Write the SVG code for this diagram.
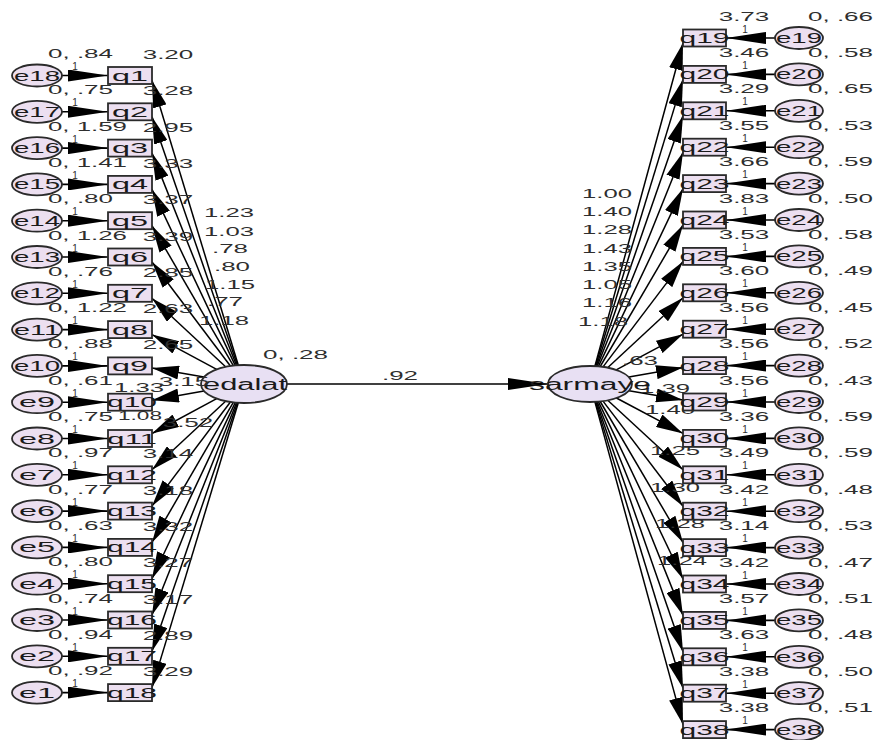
<svg xmlns="http://www.w3.org/2000/svg" width="878" height="740" viewBox="0 0 878 740">
<style>
text{font-family:"Liberation Sans",Arial,sans-serif;fill:#2e2e2e}
.lbl{font-size:13px}
.one{font-size:10px}
.nm{font-size:15px;fill:#1a1a1a}
.lvt{font-size:16px;fill:#1a1a1a}
.ob{fill:#ecdff0;stroke:#2a2a2a;stroke-width:1.8}
.lv{fill:#e8e0f3;stroke:#2a2a2a;stroke-width:1.8}
.p{stroke:#000;stroke-width:1.5;fill:none;marker-end:url(#ah)}
.e{stroke:#000;stroke-width:1.6;fill:none;marker-end:url(#eh)}
</style>
<defs>
<marker id="ah" markerUnits="userSpaceOnUse" markerWidth="27" markerHeight="14" viewBox="0 0 27 14" refX="27" refY="7" orient="auto"><path d="M0,0 L27,7 L0,14 z" fill="#000"/></marker>
<marker id="eh" markerUnits="userSpaceOnUse" markerWidth="40" markerHeight="12" viewBox="0 0 40 12" refX="40" refY="6" orient="auto"><path d="M0,0 L40,6 L0,12 z" fill="#000"/></marker>
</defs>
<rect width="878" height="740" fill="#fff"/>

<g id="connectors">
<line class="e" x1="287" y1="384" x2="548" y2="384"/>
<line class="e" x1="62" y1="75.5" x2="108" y2="75.5"/>
<line class="e" x1="62" y1="111.8" x2="108" y2="111.8"/>
<line class="e" x1="62" y1="148.1" x2="108" y2="148.1"/>
<line class="e" x1="62" y1="184.4" x2="108" y2="184.4"/>
<line class="e" x1="62" y1="220.7" x2="108" y2="220.7"/>
<line class="e" x1="62" y1="257" x2="108" y2="257"/>
<line class="e" x1="62" y1="293.3" x2="108" y2="293.3"/>
<line class="e" x1="62" y1="329.6" x2="108" y2="329.6"/>
<line class="e" x1="62" y1="365.9" x2="108" y2="365.9"/>
<line class="e" x1="62" y1="402.2" x2="108" y2="402.2"/>
<line class="e" x1="62" y1="438.5" x2="108" y2="438.5"/>
<line class="e" x1="62" y1="474.8" x2="108" y2="474.8"/>
<line class="e" x1="62" y1="511.1" x2="108" y2="511.1"/>
<line class="e" x1="62" y1="547.4" x2="108" y2="547.4"/>
<line class="e" x1="62" y1="583.7" x2="108" y2="583.7"/>
<line class="e" x1="62" y1="620" x2="108" y2="620"/>
<line class="e" x1="62" y1="656.3" x2="108" y2="656.3"/>
<line class="e" x1="62" y1="692.6" x2="108" y2="692.6"/>

<line class="e" x1="775" y1="38" x2="726" y2="38"/>
<line class="e" x1="775" y1="74.4" x2="726" y2="74.4"/>
<line class="e" x1="775" y1="110.8" x2="726" y2="110.8"/>
<line class="e" x1="775" y1="147.2" x2="726" y2="147.2"/>
<line class="e" x1="775" y1="183.6" x2="726" y2="183.6"/>
<line class="e" x1="775" y1="220" x2="726" y2="220"/>
<line class="e" x1="775" y1="256.4" x2="726" y2="256.4"/>
<line class="e" x1="775" y1="292.8" x2="726" y2="292.8"/>
<line class="e" x1="775" y1="329.2" x2="726" y2="329.2"/>
<line class="e" x1="775" y1="365.6" x2="726" y2="365.6"/>
<line class="e" x1="775" y1="402" x2="726" y2="402"/>
<line class="e" x1="775" y1="438.4" x2="726" y2="438.4"/>
<line class="e" x1="775" y1="474.8" x2="726" y2="474.8"/>
<line class="e" x1="775" y1="511.2" x2="726" y2="511.2"/>
<line class="e" x1="775" y1="547.6" x2="726" y2="547.6"/>
<line class="e" x1="775" y1="584" x2="726" y2="584"/>
<line class="e" x1="775" y1="620.4" x2="726" y2="620.4"/>
<line class="e" x1="775" y1="656.8" x2="726" y2="656.8"/>
<line class="e" x1="775" y1="693.2" x2="726" y2="693.2"/>
<line class="e" x1="775" y1="729.6" x2="726" y2="729.6"/>

<path class="p" d="M238.3,365.2 L152,80.5"/>
<path class="p" d="M237.5,365.2 L152,116.8"/>
<path class="p" d="M236.5,365.3 L152,153.1"/>
<path class="p" d="M235.2,365.4 L152,189.4"/>
<path class="p" d="M233.3,365.6 L152,225.7"/>
<path class="p" d="M230.4,366 L152,262"/>
<path class="p" d="M225.6,366.8 L152,298.3"/>
<path class="p" d="M216.7,369.3 L152,334.6"/>
<path class="p" d="M204,377 L152,367.9"/>
<path class="p" d="M204,391 L152,400.2"/>
<path class="p" d="M216.7,398.7 L152,433.5"/>
<path class="p" d="M225.6,401.2 L152,469.8"/>
<path class="p" d="M230.4,402 L152,506.1"/>
<path class="p" d="M233.3,402.4 L152,542.4"/>
<path class="p" d="M235.2,402.6 L152,578.7"/>
<path class="p" d="M236.5,402.7 L152,615"/>
<path class="p" d="M237.5,402.8 L152,651.3"/>
<path class="p" d="M238.3,402.8 L152,687.6"/>

<path class="p" d="M594.9,366.1 L683,43"/>
<path class="p" d="M595.4,366.2 L683,79.4"/>
<path class="p" d="M596.2,366.2 L683,115.8"/>
<path class="p" d="M597.1,366.3 L683,152.2"/>
<path class="p" d="M598.4,366.4 L683,188.6"/>
<path class="p" d="M600.2,366.5 L683,225"/>
<path class="p" d="M603,366.9 L683,261.4"/>
<path class="p" d="M607.6,367.7 L683,297.8"/>
<path class="p" d="M616.2,369.9 L683,334.2"/>
<path class="p" d="M628.8,377.1 L683,367.6"/>
<path class="p" d="M629,390.7 L683,400"/>
<path class="p" d="M616.4,398 L683,433.4"/>
<path class="p" d="M607.7,400.3 L683,469.8"/>
<path class="p" d="M603,401.1 L683,506.2"/>
<path class="p" d="M600.2,401.5 L683,542.6"/>
<path class="p" d="M598.4,401.6 L683,579"/>
<path class="p" d="M597.1,401.7 L683,615.4"/>
<path class="p" d="M596.2,401.8 L683,651.8"/>
<path class="p" d="M595.5,401.9 L683,688.2"/>
<path class="p" d="M594.9,401.9 L683,724.6"/>

<text class="lbl" x="400" y="380" text-anchor="middle" textLength="36" lengthAdjust="spacingAndGlyphs">.92</text>
<g class="lbl one" text-anchor="middle">
<text x="75" y="70">1</text><text x="75" y="106.3">1</text><text x="75" y="142.6">1</text><text x="75" y="178.9">1</text><text x="75" y="215.2">1</text><text x="75" y="251.5">1</text><text x="75" y="287.8">1</text><text x="75" y="324.1">1</text><text x="75" y="360.4">1</text><text x="75" y="396.7">1</text><text x="75" y="433">1</text><text x="75" y="469.3">1</text><text x="75" y="505.6">1</text><text x="75" y="541.9">1</text><text x="75" y="578.2">1</text><text x="75" y="614.5">1</text><text x="75" y="650.8">1</text><text x="75" y="687.1">1</text>
<text x="745" y="32.5">1</text><text x="745" y="68.9">1</text><text x="745" y="105.3">1</text><text x="745" y="141.7">1</text><text x="745" y="178.1">1</text><text x="745" y="214.5">1</text><text x="745" y="250.9">1</text><text x="745" y="287.3">1</text><text x="745" y="323.7">1</text><text x="745" y="360.1">1</text><text x="745" y="396.5">1</text><text x="745" y="432.9">1</text><text x="745" y="469.3">1</text><text x="745" y="505.7">1</text><text x="745" y="542.1">1</text><text x="745" y="578.5">1</text><text x="745" y="614.9">1</text><text x="745" y="651.3">1</text><text x="745" y="687.7">1</text><text x="745" y="724.1">1</text>
</g>
<g class="lbl" text-anchor="middle">
<text x="229" y="217" textLength="50" lengthAdjust="spacingAndGlyphs">1.23</text>
<text x="229" y="236" textLength="50" lengthAdjust="spacingAndGlyphs">1.03</text>
<text x="230" y="253" textLength="36" lengthAdjust="spacingAndGlyphs">.78</text>
<text x="232" y="271" textLength="36" lengthAdjust="spacingAndGlyphs">.80</text>
<text x="230" y="289" textLength="50" lengthAdjust="spacingAndGlyphs">1.15</text>
<text x="225" y="306" textLength="36" lengthAdjust="spacingAndGlyphs">.77</text>
<text x="224" y="325" textLength="50" lengthAdjust="spacingAndGlyphs">1.18</text>
<text x="139" y="392" textLength="50" lengthAdjust="spacingAndGlyphs">1.33</text>
<text x="140" y="420" textLength="44" lengthAdjust="spacingAndGlyphs">1.08</text>
<text x="607" y="198" textLength="50" lengthAdjust="spacingAndGlyphs">1.00</text>
<text x="607" y="216" textLength="50" lengthAdjust="spacingAndGlyphs">1.40</text>
<text x="607" y="234" textLength="50" lengthAdjust="spacingAndGlyphs">1.28</text>
<text x="607" y="253" textLength="50" lengthAdjust="spacingAndGlyphs">1.43</text>
<text x="607" y="271" textLength="50" lengthAdjust="spacingAndGlyphs">1.35</text>
<text x="607" y="289" textLength="50" lengthAdjust="spacingAndGlyphs">1.05</text>
<text x="607" y="307" textLength="50" lengthAdjust="spacingAndGlyphs">1.16</text>
<text x="603" y="326" textLength="50" lengthAdjust="spacingAndGlyphs">1.18</text>
<text x="640" y="365" textLength="36" lengthAdjust="spacingAndGlyphs">.63</text>
<text x="665" y="393" textLength="50" lengthAdjust="spacingAndGlyphs">1.39</text>
<text x="670" y="414" textLength="50" lengthAdjust="spacingAndGlyphs">1.40</text>
<text x="675" y="455" textLength="50" lengthAdjust="spacingAndGlyphs">1.25</text>
<text x="675" y="492" textLength="50" lengthAdjust="spacingAndGlyphs">1.30</text>
<text x="680" y="528" textLength="50" lengthAdjust="spacingAndGlyphs">1.28</text>
<text x="682" y="565" textLength="50" lengthAdjust="spacingAndGlyphs">1.24</text>
</g>
</g>

<g id="edalat"><ellipse class="lv" cx="244" cy="384" rx="43" ry="19"/><text class="lvt" x="245" y="389.5" text-anchor="middle" textLength="84" lengthAdjust="spacingAndGlyphs">edalat</text><text class="lbl" x="263" y="359" textLength="65" lengthAdjust="spacingAndGlyphs">0, .28</text></g>
<g id="sarmaye"><ellipse class="lv" cx="590" cy="384" rx="42" ry="18"/><text class="lvt" x="590" y="389.5" text-anchor="middle" textLength="122" lengthAdjust="spacingAndGlyphs">sarmaye</text></g>

<g class="lbl">
<g id="q1"><rect class="ob" x="108" y="67" width="44" height="17"/><text class="nm" x="130" y="80.5" text-anchor="middle" textLength="36" lengthAdjust="spacingAndGlyphs">q1</text><text x="168" y="59" text-anchor="middle" textLength="50.6" lengthAdjust="spacingAndGlyphs">3.20</text></g>
<g id="q2"><rect class="ob" x="108" y="103.3" width="44" height="17"/><text class="nm" x="130" y="116.8" text-anchor="middle" textLength="36" lengthAdjust="spacingAndGlyphs">q2</text><text x="168" y="95.3" text-anchor="middle" textLength="50.6" lengthAdjust="spacingAndGlyphs">3.28</text></g>
<g id="q3"><rect class="ob" x="108" y="139.6" width="44" height="17"/><text class="nm" x="130" y="153.1" text-anchor="middle" textLength="36" lengthAdjust="spacingAndGlyphs">q3</text><text x="168" y="131.6" text-anchor="middle" textLength="50.6" lengthAdjust="spacingAndGlyphs">2.95</text></g>
<g id="q4"><rect class="ob" x="108" y="175.9" width="44" height="17"/><text class="nm" x="130" y="189.4" text-anchor="middle" textLength="36" lengthAdjust="spacingAndGlyphs">q4</text><text x="168" y="167.9" text-anchor="middle" textLength="50.6" lengthAdjust="spacingAndGlyphs">3.33</text></g>
<g id="q5"><rect class="ob" x="108" y="212.2" width="44" height="17"/><text class="nm" x="130" y="225.7" text-anchor="middle" textLength="36" lengthAdjust="spacingAndGlyphs">q5</text><text x="168" y="204.2" text-anchor="middle" textLength="50.6" lengthAdjust="spacingAndGlyphs">3.37</text></g>
<g id="q6"><rect class="ob" x="108" y="248.5" width="44" height="17"/><text class="nm" x="130" y="262" text-anchor="middle" textLength="36" lengthAdjust="spacingAndGlyphs">q6</text><text x="168" y="240.5" text-anchor="middle" textLength="50.6" lengthAdjust="spacingAndGlyphs">3.39</text></g>
<g id="q7"><rect class="ob" x="108" y="284.8" width="44" height="17"/><text class="nm" x="130" y="298.3" text-anchor="middle" textLength="36" lengthAdjust="spacingAndGlyphs">q7</text><text x="168" y="276.8" text-anchor="middle" textLength="50.6" lengthAdjust="spacingAndGlyphs">2.85</text></g>
<g id="q8"><rect class="ob" x="108" y="321.1" width="44" height="17"/><text class="nm" x="130" y="334.6" text-anchor="middle" textLength="36" lengthAdjust="spacingAndGlyphs">q8</text><text x="168" y="313.1" text-anchor="middle" textLength="50.6" lengthAdjust="spacingAndGlyphs">2.63</text></g>
<g id="q9"><rect class="ob" x="108" y="357.4" width="44" height="17"/><text class="nm" x="130" y="370.9" text-anchor="middle" textLength="36" lengthAdjust="spacingAndGlyphs">q9</text><text x="168" y="349.4" text-anchor="middle" textLength="50.6" lengthAdjust="spacingAndGlyphs">2.65</text></g>
<g id="q10"><rect class="ob" x="108" y="393.7" width="44" height="17"/><text class="nm" x="132" y="407.2" text-anchor="middle" textLength="50" lengthAdjust="spacingAndGlyphs">q10</text><text x="184" y="385.7" text-anchor="middle" textLength="50.6" lengthAdjust="spacingAndGlyphs">3.15</text></g>
<g id="q11"><rect class="ob" x="108" y="430" width="44" height="17"/><text class="nm" x="132" y="443.5" text-anchor="middle" textLength="50" lengthAdjust="spacingAndGlyphs">q11</text><text x="188" y="427" text-anchor="middle" textLength="50.6" lengthAdjust="spacingAndGlyphs">3.52</text></g>
<g id="q12"><rect class="ob" x="108" y="466.3" width="44" height="17"/><text class="nm" x="132" y="479.8" text-anchor="middle" textLength="50" lengthAdjust="spacingAndGlyphs">q12</text><text x="168" y="458.3" text-anchor="middle" textLength="50.6" lengthAdjust="spacingAndGlyphs">3.14</text></g>
<g id="q13"><rect class="ob" x="108" y="502.6" width="44" height="17"/><text class="nm" x="132" y="516.1" text-anchor="middle" textLength="50" lengthAdjust="spacingAndGlyphs">q13</text><text x="168" y="494.6" text-anchor="middle" textLength="50.6" lengthAdjust="spacingAndGlyphs">3.18</text></g>
<g id="q14"><rect class="ob" x="108" y="538.9" width="44" height="17"/><text class="nm" x="132" y="552.4" text-anchor="middle" textLength="50" lengthAdjust="spacingAndGlyphs">q14</text><text x="168" y="530.9" text-anchor="middle" textLength="50.6" lengthAdjust="spacingAndGlyphs">3.32</text></g>
<g id="q15"><rect class="ob" x="108" y="575.2" width="44" height="17"/><text class="nm" x="132" y="588.7" text-anchor="middle" textLength="50" lengthAdjust="spacingAndGlyphs">q15</text><text x="168" y="567.2" text-anchor="middle" textLength="50.6" lengthAdjust="spacingAndGlyphs">3.27</text></g>
<g id="q16"><rect class="ob" x="108" y="611.5" width="44" height="17"/><text class="nm" x="132" y="625" text-anchor="middle" textLength="50" lengthAdjust="spacingAndGlyphs">q16</text><text x="168" y="603.5" text-anchor="middle" textLength="50.6" lengthAdjust="spacingAndGlyphs">3.17</text></g>
<g id="q17"><rect class="ob" x="108" y="647.8" width="44" height="17"/><text class="nm" x="132" y="661.3" text-anchor="middle" textLength="50" lengthAdjust="spacingAndGlyphs">q17</text><text x="168" y="639.8" text-anchor="middle" textLength="50.6" lengthAdjust="spacingAndGlyphs">2.89</text></g>
<g id="q18"><rect class="ob" x="108" y="684.1" width="44" height="17"/><text class="nm" x="132" y="697.6" text-anchor="middle" textLength="50" lengthAdjust="spacingAndGlyphs">q18</text><text x="168" y="676.1" text-anchor="middle" textLength="50.6" lengthAdjust="spacingAndGlyphs">3.29</text></g>

<g id="e18"><ellipse class="ob" cx="37" cy="75.5" rx="25" ry="11"/><text class="nm" x="37" y="80.5" text-anchor="middle" textLength="46" lengthAdjust="spacingAndGlyphs">e18</text><text x="48" y="58" textLength="65" lengthAdjust="spacingAndGlyphs">0, .84</text></g>
<g id="e17"><ellipse class="ob" cx="37" cy="111.8" rx="25" ry="11"/><text class="nm" x="37" y="116.8" text-anchor="middle" textLength="46" lengthAdjust="spacingAndGlyphs">e17</text><text x="48" y="94.3" textLength="65" lengthAdjust="spacingAndGlyphs">0, .75</text></g>
<g id="e16"><ellipse class="ob" cx="37" cy="148.1" rx="25" ry="11"/><text class="nm" x="37" y="153.1" text-anchor="middle" textLength="46" lengthAdjust="spacingAndGlyphs">e16</text><text x="48" y="130.6" textLength="79" lengthAdjust="spacingAndGlyphs">0, 1.59</text></g>
<g id="e15"><ellipse class="ob" cx="37" cy="184.4" rx="25" ry="11"/><text class="nm" x="37" y="189.4" text-anchor="middle" textLength="46" lengthAdjust="spacingAndGlyphs">e15</text><text x="48" y="166.9" textLength="79" lengthAdjust="spacingAndGlyphs">0, 1.41</text></g>
<g id="e14"><ellipse class="ob" cx="37" cy="220.7" rx="25" ry="11"/><text class="nm" x="37" y="225.7" text-anchor="middle" textLength="46" lengthAdjust="spacingAndGlyphs">e14</text><text x="48" y="203.2" textLength="65" lengthAdjust="spacingAndGlyphs">0, .80</text></g>
<g id="e13"><ellipse class="ob" cx="37" cy="257" rx="25" ry="11"/><text class="nm" x="37" y="262" text-anchor="middle" textLength="46" lengthAdjust="spacingAndGlyphs">e13</text><text x="48" y="239.5" textLength="79" lengthAdjust="spacingAndGlyphs">0, 1.26</text></g>
<g id="e12"><ellipse class="ob" cx="37" cy="293.3" rx="25" ry="11"/><text class="nm" x="37" y="298.3" text-anchor="middle" textLength="46" lengthAdjust="spacingAndGlyphs">e12</text><text x="48" y="275.8" textLength="65" lengthAdjust="spacingAndGlyphs">0, .76</text></g>
<g id="e11"><ellipse class="ob" cx="37" cy="329.6" rx="25" ry="11"/><text class="nm" x="37" y="334.6" text-anchor="middle" textLength="46" lengthAdjust="spacingAndGlyphs">e11</text><text x="48" y="312.1" textLength="79" lengthAdjust="spacingAndGlyphs">0, 1.22</text></g>
<g id="e10"><ellipse class="ob" cx="37" cy="365.9" rx="25" ry="11"/><text class="nm" x="37" y="370.9" text-anchor="middle" textLength="46" lengthAdjust="spacingAndGlyphs">e10</text><text x="48" y="348.4" textLength="65" lengthAdjust="spacingAndGlyphs">0, .88</text></g>
<g id="e9"><ellipse class="ob" cx="37" cy="402.2" rx="25" ry="11"/><text class="nm" x="37" y="407.2" text-anchor="middle" textLength="36" lengthAdjust="spacingAndGlyphs">e9</text><text x="48" y="384.7" textLength="65" lengthAdjust="spacingAndGlyphs">0, .61</text></g>
<g id="e8"><ellipse class="ob" cx="37" cy="438.5" rx="25" ry="11"/><text class="nm" x="37" y="443.5" text-anchor="middle" textLength="36" lengthAdjust="spacingAndGlyphs">e8</text><text x="48" y="421" textLength="65" lengthAdjust="spacingAndGlyphs">0, .75</text></g>
<g id="e7"><ellipse class="ob" cx="37" cy="474.8" rx="25" ry="11"/><text class="nm" x="37" y="479.8" text-anchor="middle" textLength="36" lengthAdjust="spacingAndGlyphs">e7</text><text x="48" y="457.3" textLength="65" lengthAdjust="spacingAndGlyphs">0, .97</text></g>
<g id="e6"><ellipse class="ob" cx="37" cy="511.1" rx="25" ry="11"/><text class="nm" x="37" y="516.1" text-anchor="middle" textLength="36" lengthAdjust="spacingAndGlyphs">e6</text><text x="48" y="493.6" textLength="65" lengthAdjust="spacingAndGlyphs">0, .77</text></g>
<g id="e5"><ellipse class="ob" cx="37" cy="547.4" rx="25" ry="11"/><text class="nm" x="37" y="552.4" text-anchor="middle" textLength="36" lengthAdjust="spacingAndGlyphs">e5</text><text x="48" y="529.9" textLength="65" lengthAdjust="spacingAndGlyphs">0, .63</text></g>
<g id="e4"><ellipse class="ob" cx="37" cy="583.7" rx="25" ry="11"/><text class="nm" x="37" y="588.7" text-anchor="middle" textLength="36" lengthAdjust="spacingAndGlyphs">e4</text><text x="48" y="566.2" textLength="65" lengthAdjust="spacingAndGlyphs">0, .80</text></g>
<g id="e3"><ellipse class="ob" cx="37" cy="620" rx="25" ry="11"/><text class="nm" x="37" y="625" text-anchor="middle" textLength="36" lengthAdjust="spacingAndGlyphs">e3</text><text x="48" y="602.5" textLength="65" lengthAdjust="spacingAndGlyphs">0, .74</text></g>
<g id="e2"><ellipse class="ob" cx="37" cy="656.3" rx="25" ry="11"/><text class="nm" x="37" y="661.3" text-anchor="middle" textLength="36" lengthAdjust="spacingAndGlyphs">e2</text><text x="48" y="638.8" textLength="65" lengthAdjust="spacingAndGlyphs">0, .94</text></g>
<g id="e1"><ellipse class="ob" cx="37" cy="692.6" rx="25" ry="11"/><text class="nm" x="37" y="697.6" text-anchor="middle" textLength="36" lengthAdjust="spacingAndGlyphs">e1</text><text x="48" y="675.1" textLength="65" lengthAdjust="spacingAndGlyphs">0, .92</text></g>

<g id="q19"><rect class="ob" x="683" y="29.5" width="43" height="17"/><text class="nm" x="704.5" y="43" text-anchor="middle" textLength="50" lengthAdjust="spacingAndGlyphs">q19</text><text x="744" y="20.5" text-anchor="middle" textLength="50.6" lengthAdjust="spacingAndGlyphs">3.73</text></g>
<g id="q20"><rect class="ob" x="683" y="65.9" width="43" height="17"/><text class="nm" x="704.5" y="79.4" text-anchor="middle" textLength="50" lengthAdjust="spacingAndGlyphs">q20</text><text x="744" y="56.9" text-anchor="middle" textLength="50.6" lengthAdjust="spacingAndGlyphs">3.46</text></g>
<g id="q21"><rect class="ob" x="683" y="102.3" width="43" height="17"/><text class="nm" x="704.5" y="115.8" text-anchor="middle" textLength="50" lengthAdjust="spacingAndGlyphs">q21</text><text x="744" y="93.3" text-anchor="middle" textLength="50.6" lengthAdjust="spacingAndGlyphs">3.29</text></g>
<g id="q22"><rect class="ob" x="683" y="138.7" width="43" height="17"/><text class="nm" x="704.5" y="152.2" text-anchor="middle" textLength="50" lengthAdjust="spacingAndGlyphs">q22</text><text x="744" y="129.7" text-anchor="middle" textLength="50.6" lengthAdjust="spacingAndGlyphs">3.55</text></g>
<g id="q23"><rect class="ob" x="683" y="175.1" width="43" height="17"/><text class="nm" x="704.5" y="188.6" text-anchor="middle" textLength="50" lengthAdjust="spacingAndGlyphs">q23</text><text x="744" y="166.1" text-anchor="middle" textLength="50.6" lengthAdjust="spacingAndGlyphs">3.66</text></g>
<g id="q24"><rect class="ob" x="683" y="211.5" width="43" height="17"/><text class="nm" x="704.5" y="225" text-anchor="middle" textLength="50" lengthAdjust="spacingAndGlyphs">q24</text><text x="744" y="202.5" text-anchor="middle" textLength="50.6" lengthAdjust="spacingAndGlyphs">3.83</text></g>
<g id="q25"><rect class="ob" x="683" y="247.9" width="43" height="17"/><text class="nm" x="704.5" y="261.4" text-anchor="middle" textLength="50" lengthAdjust="spacingAndGlyphs">q25</text><text x="744" y="238.9" text-anchor="middle" textLength="50.6" lengthAdjust="spacingAndGlyphs">3.53</text></g>
<g id="q26"><rect class="ob" x="683" y="284.3" width="43" height="17"/><text class="nm" x="704.5" y="297.8" text-anchor="middle" textLength="50" lengthAdjust="spacingAndGlyphs">q26</text><text x="744" y="275.3" text-anchor="middle" textLength="50.6" lengthAdjust="spacingAndGlyphs">3.60</text></g>
<g id="q27"><rect class="ob" x="683" y="320.7" width="43" height="17"/><text class="nm" x="704.5" y="334.2" text-anchor="middle" textLength="50" lengthAdjust="spacingAndGlyphs">q27</text><text x="744" y="311.7" text-anchor="middle" textLength="50.6" lengthAdjust="spacingAndGlyphs">3.56</text></g>
<g id="q28"><rect class="ob" x="683" y="357.1" width="43" height="17"/><text class="nm" x="704.5" y="370.6" text-anchor="middle" textLength="50" lengthAdjust="spacingAndGlyphs">q28</text><text x="744" y="348.1" text-anchor="middle" textLength="50.6" lengthAdjust="spacingAndGlyphs">3.56</text></g>
<g id="q29"><rect class="ob" x="683" y="393.5" width="43" height="17"/><text class="nm" x="704.5" y="407" text-anchor="middle" textLength="50" lengthAdjust="spacingAndGlyphs">q29</text><text x="744" y="384.5" text-anchor="middle" textLength="50.6" lengthAdjust="spacingAndGlyphs">3.56</text></g>
<g id="q30"><rect class="ob" x="683" y="429.9" width="43" height="17"/><text class="nm" x="704.5" y="443.4" text-anchor="middle" textLength="50" lengthAdjust="spacingAndGlyphs">q30</text><text x="744" y="420.9" text-anchor="middle" textLength="50.6" lengthAdjust="spacingAndGlyphs">3.36</text></g>
<g id="q31"><rect class="ob" x="683" y="466.3" width="43" height="17"/><text class="nm" x="704.5" y="479.8" text-anchor="middle" textLength="50" lengthAdjust="spacingAndGlyphs">q31</text><text x="744" y="457.3" text-anchor="middle" textLength="50.6" lengthAdjust="spacingAndGlyphs">3.49</text></g>
<g id="q32"><rect class="ob" x="683" y="502.7" width="43" height="17"/><text class="nm" x="704.5" y="516.2" text-anchor="middle" textLength="50" lengthAdjust="spacingAndGlyphs">q32</text><text x="744" y="493.7" text-anchor="middle" textLength="50.6" lengthAdjust="spacingAndGlyphs">3.42</text></g>
<g id="q33"><rect class="ob" x="683" y="539.1" width="43" height="17"/><text class="nm" x="704.5" y="552.6" text-anchor="middle" textLength="50" lengthAdjust="spacingAndGlyphs">q33</text><text x="744" y="530.1" text-anchor="middle" textLength="50.6" lengthAdjust="spacingAndGlyphs">3.14</text></g>
<g id="q34"><rect class="ob" x="683" y="575.5" width="43" height="17"/><text class="nm" x="704.5" y="589" text-anchor="middle" textLength="50" lengthAdjust="spacingAndGlyphs">q34</text><text x="744" y="566.5" text-anchor="middle" textLength="50.6" lengthAdjust="spacingAndGlyphs">3.42</text></g>
<g id="q35"><rect class="ob" x="683" y="611.9" width="43" height="17"/><text class="nm" x="704.5" y="625.4" text-anchor="middle" textLength="50" lengthAdjust="spacingAndGlyphs">q35</text><text x="744" y="602.9" text-anchor="middle" textLength="50.6" lengthAdjust="spacingAndGlyphs">3.57</text></g>
<g id="q36"><rect class="ob" x="683" y="648.3" width="43" height="17"/><text class="nm" x="704.5" y="661.8" text-anchor="middle" textLength="50" lengthAdjust="spacingAndGlyphs">q36</text><text x="744" y="639.3" text-anchor="middle" textLength="50.6" lengthAdjust="spacingAndGlyphs">3.63</text></g>
<g id="q37"><rect class="ob" x="683" y="684.7" width="43" height="17"/><text class="nm" x="704.5" y="698.2" text-anchor="middle" textLength="50" lengthAdjust="spacingAndGlyphs">q37</text><text x="744" y="675.7" text-anchor="middle" textLength="50.6" lengthAdjust="spacingAndGlyphs">3.38</text></g>
<g id="q38"><rect class="ob" x="683" y="721.1" width="43" height="17"/><text class="nm" x="704.5" y="734.6" text-anchor="middle" textLength="50" lengthAdjust="spacingAndGlyphs">q38</text><text x="744" y="712.1" text-anchor="middle" textLength="50.6" lengthAdjust="spacingAndGlyphs">3.38</text></g>

<g id="e19"><ellipse class="ob" cx="799" cy="38" rx="24" ry="11"/><text class="nm" x="799" y="43" text-anchor="middle" textLength="46" lengthAdjust="spacingAndGlyphs">e19</text><text x="808" y="20.5" textLength="65" lengthAdjust="spacingAndGlyphs">0, .66</text></g>
<g id="e20"><ellipse class="ob" cx="799" cy="74.4" rx="24" ry="11"/><text class="nm" x="799" y="79.4" text-anchor="middle" textLength="46" lengthAdjust="spacingAndGlyphs">e20</text><text x="808" y="56.9" textLength="65" lengthAdjust="spacingAndGlyphs">0, .58</text></g>
<g id="e21"><ellipse class="ob" cx="799" cy="110.8" rx="24" ry="11"/><text class="nm" x="799" y="115.8" text-anchor="middle" textLength="46" lengthAdjust="spacingAndGlyphs">e21</text><text x="808" y="93.3" textLength="65" lengthAdjust="spacingAndGlyphs">0, .65</text></g>
<g id="e22"><ellipse class="ob" cx="799" cy="147.2" rx="24" ry="11"/><text class="nm" x="799" y="152.2" text-anchor="middle" textLength="46" lengthAdjust="spacingAndGlyphs">e22</text><text x="808" y="129.7" textLength="65" lengthAdjust="spacingAndGlyphs">0, .53</text></g>
<g id="e23"><ellipse class="ob" cx="799" cy="183.6" rx="24" ry="11"/><text class="nm" x="799" y="188.6" text-anchor="middle" textLength="46" lengthAdjust="spacingAndGlyphs">e23</text><text x="808" y="166.1" textLength="65" lengthAdjust="spacingAndGlyphs">0, .59</text></g>
<g id="e24"><ellipse class="ob" cx="799" cy="220" rx="24" ry="11"/><text class="nm" x="799" y="225" text-anchor="middle" textLength="46" lengthAdjust="spacingAndGlyphs">e24</text><text x="808" y="202.5" textLength="65" lengthAdjust="spacingAndGlyphs">0, .50</text></g>
<g id="e25"><ellipse class="ob" cx="799" cy="256.4" rx="24" ry="11"/><text class="nm" x="799" y="261.4" text-anchor="middle" textLength="46" lengthAdjust="spacingAndGlyphs">e25</text><text x="808" y="238.9" textLength="65" lengthAdjust="spacingAndGlyphs">0, .58</text></g>
<g id="e26"><ellipse class="ob" cx="799" cy="292.8" rx="24" ry="11"/><text class="nm" x="799" y="297.8" text-anchor="middle" textLength="46" lengthAdjust="spacingAndGlyphs">e26</text><text x="808" y="275.3" textLength="65" lengthAdjust="spacingAndGlyphs">0, .49</text></g>
<g id="e27"><ellipse class="ob" cx="799" cy="329.2" rx="24" ry="11"/><text class="nm" x="799" y="334.2" text-anchor="middle" textLength="46" lengthAdjust="spacingAndGlyphs">e27</text><text x="808" y="311.7" textLength="65" lengthAdjust="spacingAndGlyphs">0, .45</text></g>
<g id="e28"><ellipse class="ob" cx="799" cy="365.6" rx="24" ry="11"/><text class="nm" x="799" y="370.6" text-anchor="middle" textLength="46" lengthAdjust="spacingAndGlyphs">e28</text><text x="808" y="348.1" textLength="65" lengthAdjust="spacingAndGlyphs">0, .52</text></g>
<g id="e29"><ellipse class="ob" cx="799" cy="402" rx="24" ry="11"/><text class="nm" x="799" y="407" text-anchor="middle" textLength="46" lengthAdjust="spacingAndGlyphs">e29</text><text x="808" y="384.5" textLength="65" lengthAdjust="spacingAndGlyphs">0, .43</text></g>
<g id="e30"><ellipse class="ob" cx="799" cy="438.4" rx="24" ry="11"/><text class="nm" x="799" y="443.4" text-anchor="middle" textLength="46" lengthAdjust="spacingAndGlyphs">e30</text><text x="808" y="420.9" textLength="65" lengthAdjust="spacingAndGlyphs">0, .59</text></g>
<g id="e31"><ellipse class="ob" cx="799" cy="474.8" rx="24" ry="11"/><text class="nm" x="799" y="479.8" text-anchor="middle" textLength="46" lengthAdjust="spacingAndGlyphs">e31</text><text x="808" y="457.3" textLength="65" lengthAdjust="spacingAndGlyphs">0, .59</text></g>
<g id="e32"><ellipse class="ob" cx="799" cy="511.2" rx="24" ry="11"/><text class="nm" x="799" y="516.2" text-anchor="middle" textLength="46" lengthAdjust="spacingAndGlyphs">e32</text><text x="808" y="493.7" textLength="65" lengthAdjust="spacingAndGlyphs">0, .48</text></g>
<g id="e33"><ellipse class="ob" cx="799" cy="547.6" rx="24" ry="11"/><text class="nm" x="799" y="552.6" text-anchor="middle" textLength="46" lengthAdjust="spacingAndGlyphs">e33</text><text x="808" y="530.1" textLength="65" lengthAdjust="spacingAndGlyphs">0, .53</text></g>
<g id="e34"><ellipse class="ob" cx="799" cy="584" rx="24" ry="11"/><text class="nm" x="799" y="589" text-anchor="middle" textLength="46" lengthAdjust="spacingAndGlyphs">e34</text><text x="808" y="566.5" textLength="65" lengthAdjust="spacingAndGlyphs">0, .47</text></g>
<g id="e35"><ellipse class="ob" cx="799" cy="620.4" rx="24" ry="11"/><text class="nm" x="799" y="625.4" text-anchor="middle" textLength="46" lengthAdjust="spacingAndGlyphs">e35</text><text x="808" y="602.9" textLength="65" lengthAdjust="spacingAndGlyphs">0, .51</text></g>
<g id="e36"><ellipse class="ob" cx="799" cy="656.8" rx="24" ry="11"/><text class="nm" x="799" y="661.8" text-anchor="middle" textLength="46" lengthAdjust="spacingAndGlyphs">e36</text><text x="808" y="639.3" textLength="65" lengthAdjust="spacingAndGlyphs">0, .48</text></g>
<g id="e37"><ellipse class="ob" cx="799" cy="693.2" rx="24" ry="11"/><text class="nm" x="799" y="698.2" text-anchor="middle" textLength="46" lengthAdjust="spacingAndGlyphs">e37</text><text x="808" y="675.7" textLength="65" lengthAdjust="spacingAndGlyphs">0, .50</text></g>
<g id="e38"><ellipse class="ob" cx="799" cy="729.6" rx="24" ry="11"/><text class="nm" x="799" y="734.6" text-anchor="middle" textLength="46" lengthAdjust="spacingAndGlyphs">e38</text><text x="808" y="712.1" textLength="65" lengthAdjust="spacingAndGlyphs">0, .51</text></g>
</g>
</svg>
